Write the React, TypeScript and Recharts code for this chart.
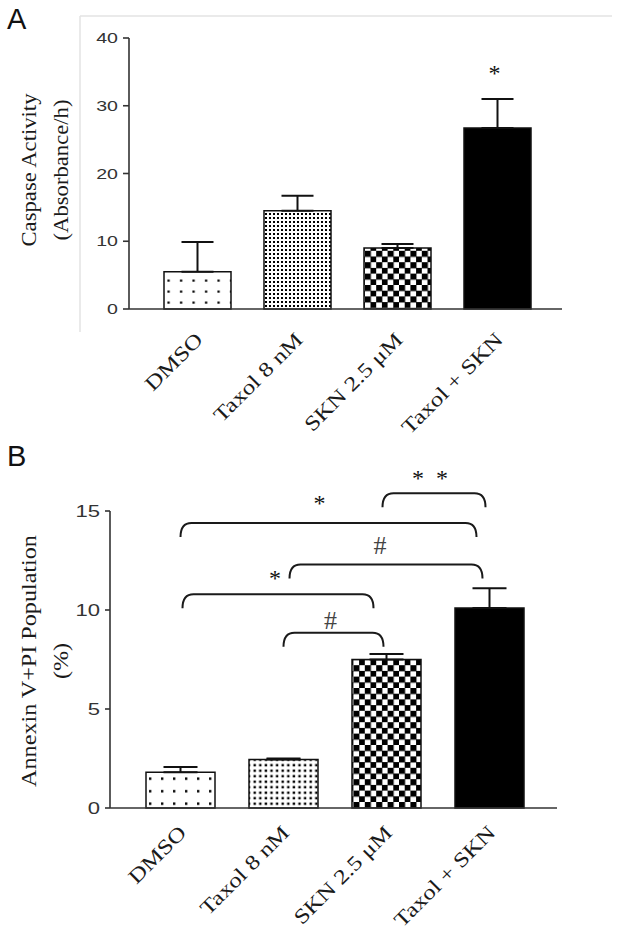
import { Bar, BarChart, Cell, ErrorBar, LabelList, ReferenceLine, XAxis, YAxis } from 'recharts'

const groups = ['DMSO', 'Taxol 8 nM', 'SKN 2.5 μM', 'Taxol + SKN']

// panel A: caspase activity
const caspaseMean = [5.5, 14.5, 9.0, 26.7]
const caspaseSem = [4.4, 2.2, 0.6, 4.3]
const caspaseMarks = ['', '', '', '*']
const caspaseTicks = [0, 10, 20, 30, 40]

// panel B: annexin V + PI
const annexinMean = [1.8, 2.45, 7.5, 10.1]
const annexinSem = [0.27, 0.05, 0.28, 1.0]
const annexinTicks = [0, 5, 10, 15]

// significance brackets drawn over panel B
const brackets = [
  { from: 'DMSO', to: 'Taxol + SKN', y: 14.4, label: '*' },
  { from: 'Taxol 8 nM', to: 'SKN 2.5 μM', y: 8.85, label: '#' },
  { from: 'DMSO', to: 'SKN 2.5 μM', y: 10.8, label: '*' },
  { from: 'Taxol 8 nM', to: 'Taxol + SKN', y: 12.3, label: '#' },
  { from: 'SKN 2.5 μM', to: 'Taxol + SKN', y: 15.9, label: '*\u2002*' },
]
// pixel nudges for bracket ends and labels: [left, right, labelDx, labelDy]
const bracketNudges = [
  [0, -13, -9, 23],
  [0, -3, -3, 13],
  [2, -13, -3, 19],
  [6, -7, -6, 19],
  [-4, -4, -4, 18],
]

const caspaseData = groups.map((name, i) => ({
  name,
  mean: caspaseMean[i],
  err: [0, caspaseSem[i]],
  mark: caspaseMarks[i],
}))
const annexinData = groups.map((name, i) => ({
  name,
  mean: annexinMean[i],
  err: [0, annexinSem[i]],
}))

const fillsA = ['url(#sparseA)', 'url(#denseA)', 'url(#checker)', '#000']
const fillsB = ['url(#sparseB)', 'url(#denseB)', 'url(#checker)', '#000']

const SERIF = '"Liberation Serif", "Times New Roman", serif'
const SANS = '"Liberation Sans", Arial, sans-serif'
const INK = '#1a1a1a'

function Patterns() {
  return (
    <svg width={0} height={0} style={{ position: 'absolute' }}>
      <defs>
        <pattern id="sparseA" width={12.5} height={11} patternUnits="userSpaceOnUse">
          <rect width={12.5} height={11} fill="#fff" />
          <rect x={5} y={4.5} width={2.2} height={2.2} fill="#000" />
        </pattern>
        <pattern id="sparseB" width={12} height={12.5} patternUnits="userSpaceOnUse">
          <rect width={12} height={12.5} fill="#fff" />
          <rect x={5} y={5} width={2.4} height={2.4} fill="#000" />
        </pattern>
        <pattern id="denseA" width={4} height={4} patternUnits="userSpaceOnUse">
          <rect width={4} height={4} fill="#fff" />
          <rect x={1} y={1} width={2} height={2} fill="#000" />
        </pattern>
        <pattern id="denseB" width={5.6} height={5.5} patternUnits="userSpaceOnUse">
          <rect width={5.6} height={5.5} fill="#fff" />
          <rect x={1.5} y={1.5} width={2.4} height={2.4} fill="#000" />
        </pattern>
        <pattern id="checker" width={11.4} height={11.4} patternUnits="userSpaceOnUse">
          <rect width={11.4} height={11.4} fill="#fff" />
          <rect x={0} y={0} width={6.1} height={6.1} fill="#000" />
          <rect x={5.7} y={5.7} width={6.1} height={6.1} fill="#000" />
        </pattern>
      </defs>
    </svg>
  )
}

function CategoryTick(props: any) {
  const { x, y, payload, dx, dy } = props
  return (
    <g transform={`translate(${x + dx},${y + dy}) rotate(-45) scale(1.22,1)`}>
      <text textAnchor="end" fontFamily={SERIF} fontSize={20.5} fill={INK}>
        {payload.value}
      </text>
    </g>
  )
}

function ValueTick(props: any) {
  const { x, y, payload, size, stretch } = props
  return (
    <g transform={`translate(${x},${y}) scale(${stretch},1)`}>
      <text textAnchor="end" dominantBaseline="central" fontFamily={SANS} fontSize={size} fill="#333">
        {payload.value}
      </text>
    </g>
  )
}

function AxisTitle({ lines, x, y, stretch }: { lines: string[]; x: number[]; y: number; stretch: number }) {
  return (
    <g>
      {lines.map((t, i) => (
        <g key={t} transform={`translate(${x[i]},${y}) rotate(-90) scale(${stretch},1)`}>
          <text textAnchor="middle" dominantBaseline="central" fontFamily={SERIF} fontSize={21} fill={INK}>
            {t}
          </text>
        </g>
      ))}
    </g>
  )
}

function bracketShape(label: string, nudge: number[]) {
  return (p: any) => {
    const x1 = p.x1 + nudge[0]
    const x2 = p.x2 + nudge[1]
    const y = p.y1
    const d = 14
    const r = 11
    const path = `M${x1},${y + d} Q${x1},${y} ${x1 + r},${y} L${x2 - r},${y} Q${x2},${y} ${x2},${y + d}`
    const isHash = label === '#'
    const cy = y - nudge[3]
    return (
      <g>
        <path d={path} fill="none" stroke={INK} strokeWidth={2} />
        <text
          x={(x1 + x2) / 2 + nudge[2]}
          y={cy + (isHash ? 9 : 11)}
          textAnchor="middle"
          fontFamily={SERIF}
          fontSize={isHash ? 26 : 24}
          fill={isHash ? '#444' : '#111'}
        >
          {label}
        </text>
      </g>
    )
  }
}

function renderMark(p: any) {
  if (!p.value) return null
  return (
    <text x={p.x + p.width / 2 - 3} y={p.y - 58 + 11} textAnchor="middle" fontFamily={SERIF} fontSize={24} fill="#111">
      {p.value}
    </text>
  )
}

export default function App() {
  return (
    <div style={{ position: 'absolute', left: 0, top: 0, width: 618, height: 936, background: '#fff' }}>
      <Patterns />
      <svg width={618} height={936} style={{ position: 'absolute', left: 0, top: 0 }}>
        <line x1={80} y1={16} x2={612} y2={16} stroke="#e3e3e3" strokeWidth={1.5} />
        <line x1={80} y1={16} x2={80} y2={332} stroke="#e3e3e3" strokeWidth={1.5} />
        <text x={7} y={29} fontFamily={SANS} fontSize={29} fill="#111">A</text>
        <text x={7} y={466} fontFamily={SANS} fontSize={29} fill="#111">B</text>
      </svg>

      <div style={{ position: 'absolute', left: 0, top: 0 }}>
        <BarChart width={618} height={460} data={caspaseData} margin={{ top: 38, right: 56, bottom: 11, left: 0 }}>
          <XAxis
            dataKey="name"
            height={140}
            padding={{ left: 18, right: 15 }}
            tickLine={false}
            tickSize={0}
            tickMargin={0}
            axisLine={{ stroke: '#333', strokeWidth: 1.6 }}
            tick={(p: any) => <CategoryTick {...p} dx={7} dy={32} />}
            interval={0}
          />
          <YAxis
            width={129}
            domain={[0, 40]}
            ticks={caspaseTicks}
            tickSize={6}
            tickMargin={5}
            axisLine={{ stroke: '#333', strokeWidth: 1.6 }}
            tickLine={{ stroke: '#333', strokeWidth: 1.6 }}
            tick={(p: any) => <ValueTick {...p} size={14.5} stretch={1.35} />}
            label={{
              content: () => (
                <AxisTitle lines={['Caspase Activity', '(Absorbance/h)']} x={[29, 61]} y={170} stretch={1.08} />
              ),
            }}
          />
          <Bar dataKey="mean" barSize={67} stroke="#111" strokeWidth={1.5} isAnimationActive={false}>
            {caspaseData.map((d, i) => (
              <Cell key={d.name} fill={fillsA[i]} />
            ))}
            <ErrorBar dataKey="err" width={16} stroke="#111" strokeWidth={2} isAnimationActive={false} />
            <LabelList dataKey="mark" content={renderMark} />
          </Bar>
        </BarChart>
      </div>

      <div style={{ position: 'absolute', left: 0, top: 460 }}>
        <BarChart width={618} height={476} data={annexinData} margin={{ top: 51, right: 61, bottom: 8, left: 0 }}>
          <XAxis
            dataKey="name"
            height={120}
            padding={{ left: 19, right: 16 }}
            tickLine={false}
            tickSize={0}
            tickMargin={0}
            axisLine={{ stroke: '#333', strokeWidth: 1.6 }}
            tick={(p: any) => <CategoryTick {...p} dx={7} dy={26} />}
            interval={0}
          />
          <YAxis
            width={110}
            domain={[0, 15]}
            ticks={annexinTicks}
            tickSize={5}
            tickMargin={5}
            axisLine={{ stroke: '#333', strokeWidth: 1.6 }}
            tickLine={{ stroke: '#333', strokeWidth: 1.6 }}
            tick={(p: any) => <ValueTick {...p} size={17} stretch={1.3} />}
            label={{
              content: () => (
                <AxisTitle lines={['Annexin V+PI Population', '(%)']} x={[29, 61]} y={201} stretch={1.15} />
              ),
            }}
          />
          <Bar dataKey="mean" barSize={69} stroke="#111" strokeWidth={1.5} isAnimationActive={false}>
            {annexinData.map((d, i) => (
              <Cell key={d.name} fill={fillsB[i]} />
            ))}
            <ErrorBar dataKey="err" width={17} stroke="#111" strokeWidth={2} isAnimationActive={false} />
          </Bar>
          {brackets.map((b, i) => (
            <ReferenceLine
              key={i}
              segment={[{ x: b.from, y: b.y }, { x: b.to, y: b.y }]}
              ifOverflow="visible"
              shape={bracketShape(b.label, bracketNudges[i])}
            />
          ))}
        </BarChart>
      </div>
    </div>
  )
}
